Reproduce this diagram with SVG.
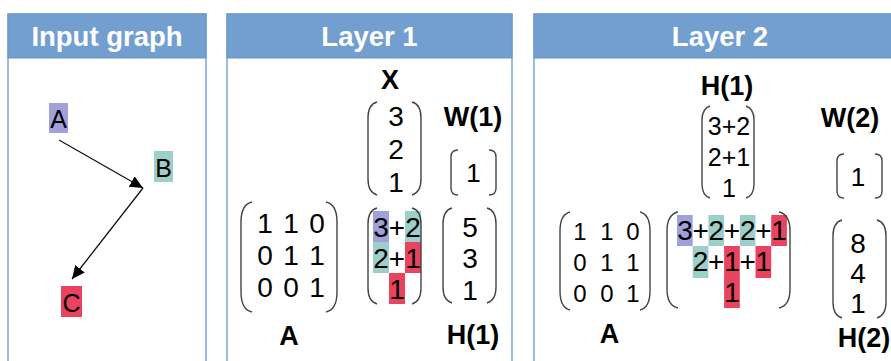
<svg xmlns="http://www.w3.org/2000/svg" width="891" height="361" viewBox="0 0 891 361">
<style>
.panel{fill:#fff;stroke:#7ea6d6;stroke-width:1.5}
.hdr{fill:#729fcf;stroke:#6a95c6;stroke-width:1}
.ht{font-family:"Liberation Sans",Arial,sans-serif;font-weight:bold;font-size:27.5px;fill:#fff;text-anchor:middle}
.lb{font-family:"Liberation Sans",Arial,sans-serif;font-weight:bold;font-size:27px;fill:#000;text-anchor:middle}
.d28{font-family:"Liberation Sans",Arial,sans-serif;font-size:28px;fill:#000;text-anchor:middle}
.d26{font-family:"Liberation Sans",Arial,sans-serif;font-size:26px;fill:#000;text-anchor:middle}
.d25{font-family:"Liberation Sans",Arial,sans-serif;font-size:25px;fill:#000;text-anchor:middle}
.d24{font-family:"Liberation Sans",Arial,sans-serif;font-size:24px;fill:#000;text-anchor:middle}
.br{fill:none;stroke:#444;stroke-width:1.4}
.pu{fill:#a0a0da}.te{fill:#9ccfca}.re{fill:#e9435f}
.edge{stroke:#111;stroke-width:1.3;fill:none;marker-end:url(#ah)}
</style>
<defs>
<marker id="ah" markerUnits="userSpaceOnUse" markerWidth="14" markerHeight="12" refX="13" refY="6" orient="auto">
<path d="M0 0 L13 6 L0 12 Z" fill="#000"/>
</marker>
</defs>

<g id="panel-input">
<rect class="panel" x="8" y="14" width="198" height="360"/>
<rect class="hdr" x="8" y="14" width="198" height="44"/>
<text class="ht" x="107" y="46">Input graph</text>
</g>
<g id="panel-layer1">
<rect class="panel" x="227" y="14" width="285" height="360"/>
<rect class="hdr" x="227" y="14" width="285" height="44"/>
<text class="ht" x="369.5" y="46">Layer 1</text>
</g>
<g id="panel-layer2">
<rect class="panel" x="534" y="14" width="372" height="360"/>
<rect class="hdr" x="534" y="14" width="372" height="44"/>
<text class="ht" x="720" y="46">Layer 2</text>
</g>

<g id="node-A">
<rect class="pu" x="49" y="103" width="19" height="30"/>
<text class="d25" x="58.5" y="128">A</text>
</g>
<g id="node-B">
<rect class="te" x="154" y="151" width="19" height="31"/>
<text class="d25" x="163.5" y="177">B</text>
</g>
<g id="node-C">
<rect class="re" x="61" y="286" width="21" height="31"/>
<text class="d25" x="71.5" y="312">C</text>
</g>

<g id="connectors">
<line class="edge" x1="59" y1="140" x2="143" y2="188"/>
<line class="edge" x1="143" y1="188" x2="72" y2="279"/>
</g>

<g id="l1-X">
<text class="lb" x="390" y="89">X</text>
<path class="br" d="M377 102 C370 104 368 110 368 118 L368 179 C368 187 370 193 377 195"/>
<path class="br" d="M412 102 C419 104 421 110 421 118 L421 179 C421 187 419 193 412 195"/>
<text class="d28" x="396" y="126">3</text>
<text class="d28" x="396" y="159">2</text>
<text class="d28" x="396" y="192">1</text>
</g>
<g id="l1-W">
<text class="lb" x="473" y="126">W(1)</text>
<path class="br" d="M458 150 C453 150 451 153 451 157 L451 188 C451 192 453 195 458 195"/>
<path class="br" d="M489 150 C494 150 496 153 496 157 L496 188 C496 192 494 195 489 195"/>
<text class="d26" x="473.5" y="182">1</text>
</g>
<g id="l1-A">
<path class="br" d="M252 202 C243 204 241 212 241 222 L241 292 C241 302 243 310 252 312"/>
<path class="br" d="M326 202 C335 204 337 212 337 222 L337 292 C337 302 335 310 326 312"/>
<text class="d28" x="265" y="233">1</text><text class="d28" x="291" y="233">1</text><text class="d28" x="317" y="233">0</text>
<text class="d28" x="265" y="265">0</text><text class="d28" x="291" y="265">1</text><text class="d28" x="317" y="265">1</text>
<text class="d28" x="265" y="297">0</text><text class="d28" x="291" y="297">0</text><text class="d28" x="317" y="297">1</text>
<text class="lb" x="289" y="345">A</text>
</g>
<g id="l1-prod">
<rect class="pu" x="373" y="211" width="16" height="31"/>
<rect class="te" x="405" y="211" width="16" height="31"/>
<rect class="te" x="373" y="242" width="16" height="31"/>
<rect class="re" x="405" y="242" width="16" height="31"/>
<rect class="re" x="389" y="273" width="16" height="31"/>
<path class="br" d="M377 208 C370 210 368 216 368 224 L368 288 C368 296 370 302 377 304"/>
<path class="br" d="M412 208 C419 210 421 216 421 224 L421 288 C421 296 419 302 412 304"/>
<text class="d28" x="381" y="237">3</text><text class="d28" x="397" y="237">+</text><text class="d28" x="413" y="237">2</text>
<text class="d28" x="381" y="268">2</text><text class="d28" x="397" y="268">+</text><text class="d28" x="413" y="268">1</text>
<text class="d28" x="397" y="299">1</text>
</g>
<g id="l1-H">
<path class="br" d="M452 208 C445 210 443 216 443 224 L443 287 C443 295 445 301 452 303"/>
<path class="br" d="M487 208 C494 210 496 216 496 224 L496 287 C496 295 494 301 487 303"/>
<text class="d28" x="470" y="237">5</text>
<text class="d28" x="470" y="268">3</text>
<text class="d28" x="470" y="300">1</text>
<text class="lb" x="473" y="344">H(1)</text>
</g>

<g id="l2-H1">
<text class="lb" x="727" y="95">H(1)</text>
<path class="br" d="M710 106 C704 108 702 113 702 120 L702 184 C702 191 704 196 710 198"/>
<path class="br" d="M746 106 C752 108 754 113 754 120 L754 184 C754 191 752 196 746 198"/>
<text class="d25" x="729" y="135">3+2</text>
<text class="d25" x="729" y="166">2+1</text>
<text class="d25" x="729" y="197">1</text>
</g>
<g id="l2-W">
<text class="lb" x="850" y="127">W(2)</text>
<path class="br" d="M844 154 C839 154 837 157 837 161 L837 191 C837 195 839 198 844 198"/>
<path class="br" d="M875 154 C880 154 882 157 882 161 L882 191 C882 195 880 198 875 198"/>
<text class="d26" x="858" y="186">1</text>
</g>
<g id="l2-A">
<path class="br" d="M570 212 C562 214 560 222 560 231 L560 291 C560 300 562 308 570 310"/>
<path class="br" d="M640 212 C648 214 650 222 650 231 L650 291 C650 300 648 308 640 310"/>
<text class="d24" x="580" y="240">1</text><text class="d24" x="607" y="240">1</text><text class="d24" x="633" y="240">0</text>
<text class="d24" x="580" y="271">0</text><text class="d24" x="607" y="271">1</text><text class="d24" x="633" y="271">1</text>
<text class="d24" x="580" y="302">0</text><text class="d24" x="607" y="302">0</text><text class="d24" x="633" y="302">1</text>
<text class="lb" x="609.5" y="343">A</text>
</g>
<g id="l2-prod">
<rect class="pu" x="677" y="215" width="15.7" height="31"/>
<rect class="te" x="708.4" y="215" width="15.7" height="31"/>
<rect class="te" x="739.8" y="215" width="15.7" height="31"/>
<rect class="re" x="771.2" y="215" width="15.7" height="31"/>
<rect class="te" x="692.7" y="246" width="15.7" height="32"/>
<rect class="re" x="724.1" y="246" width="15.7" height="32"/>
<rect class="re" x="755.5" y="246" width="15.7" height="32"/>
<rect class="re" x="724.1" y="278" width="15.7" height="30"/>
<path class="br" d="M678 212 C669 214 667 222 667 231 L667 289 C667 298 669 306 678 308"/>
<path class="br" d="M779 212 C788 214 790 222 790 231 L790 289 C790 298 788 306 779 308"/>
<text class="d28" x="685" y="240">3</text><text class="d28" x="700.6" y="240">+</text><text class="d28" x="716.3" y="240">2</text><text class="d28" x="732" y="240">+</text><text class="d28" x="747.7" y="240">2</text><text class="d28" x="763.4" y="240">+</text><text class="d28" x="779.1" y="240">1</text>
<text class="d28" x="700.6" y="271">2</text><text class="d28" x="716.3" y="271">+</text><text class="d28" x="732" y="271">1</text><text class="d28" x="747.7" y="271">+</text><text class="d28" x="763.4" y="271">1</text>
<text class="d28" x="732" y="302">1</text>
</g>
<g id="l2-H2">
<path class="br" d="M842 220 C835 222 833 228 833 236 L833 302 C833 310 835 316 842 318"/>
<path class="br" d="M877 220 C884 222 886 228 886 236 L886 302 C886 310 884 316 877 318"/>
<text class="d28" x="858" y="253">8</text>
<text class="d28" x="858" y="283">4</text>
<text class="d28" x="858" y="313">1</text>
<text class="lb" x="864" y="347">H(2)</text>
</g>
</svg>
